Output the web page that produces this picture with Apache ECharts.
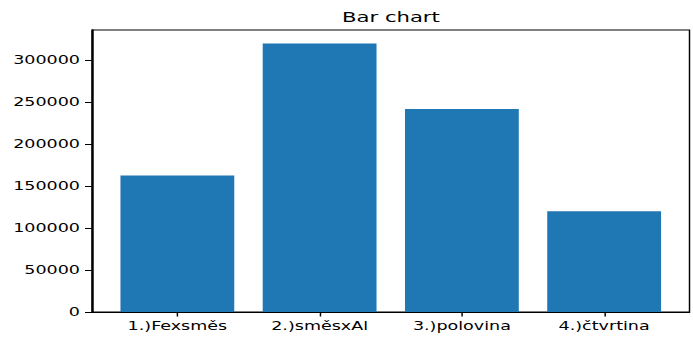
<!DOCTYPE html>
<html>
<head>
<meta charset="utf-8">
<script src="https://cdn.jsdelivr.net/npm/echarts@6/dist/echarts.min.js"></script>
<style>
html, body { margin: 0; padding: 0; background: #fff; overflow: hidden; }
#wrap { width: 693px; height: 338px; overflow: hidden; position: relative; }
#chart { position: absolute; left: 0; top: 0; height: 338px; transform-origin: 0 0; }
</style>
</head>
<body>
<div id="wrap"><div id="chart"></div></div>
<script>
const categories = ['1.)Fexsměs', '2.)směsxAl', '3.)polovina', '4.)čtvrtina'];
const values = [162500, 320000, 242000, 120000];
const yTicks = [0, 50000, 100000, 150000, 200000, 250000, 300000];
const titleText = 'Bar chart';

// the reference image is horizontally stretched; reproduce that stretch
const SX = 1.46;
const W = 693 / SX;
const el = document.getElementById('chart');
el.style.width = W + 'px';
el.style.transform = 'scaleX(' + SX + ')';

const xIdx = categories.map((c, i) => i);
const chart = echarts.init(el, null, { renderer: 'svg', width: W, height: 338 });
const font = 'DejaVu Sans';
chart.setOption({
  animation: false,
  title: {
    text: titleText,
    left: 342 / SX,
    top: 9,
    padding: 0,
    textStyle: { fontFamily: font, fontSize: 14.5, fontWeight: 'normal', color: '#000' }
  },
  grid: {
    left: 92 / SX, right: 3.5 / SX, top: 30, bottom: 26,
    show: true, borderColor: '#000', borderWidth: 1, backgroundColor: 'transparent'
  },
  xAxis: {
    type: 'value',
    min: -0.6, max: 3.6,
    axisLine: { show: true, onZero: false, lineStyle: { color: '#000', width: 1 } },
    axisTick: { show: true, customValues: xIdx, length: 4.5, lineStyle: { color: '#000' } },
    axisLabel: {
      customValues: xIdx,
      formatter: v => categories[Math.round(v)],
      fontFamily: font, fontSize: 12, color: '#000', margin: 8
    },
    splitLine: { show: false }
  },
  yAxis: {
    type: 'value',
    min: 0, max: 336000,
    axisLine: { show: true, onZero: false, lineStyle: { color: '#000', width: 1.4 } },
    axisTick: { show: true, customValues: yTicks, length: 7 / SX, lineStyle: { color: '#000' } },
    axisLabel: {
      customValues: yTicks,
      fontFamily: font, fontSize: 12, color: '#000', margin: 12 / SX,
      formatter: v => String(v)
    },
    splitLine: { show: false }
  },
  series: [{
    type: 'bar',
    barWidth: '80%',
    data: values.map((v, i) => [xIdx[i], v]),
    itemStyle: { color: '#1f77b4' }
  }]
});
</script>
</body>
</html>
